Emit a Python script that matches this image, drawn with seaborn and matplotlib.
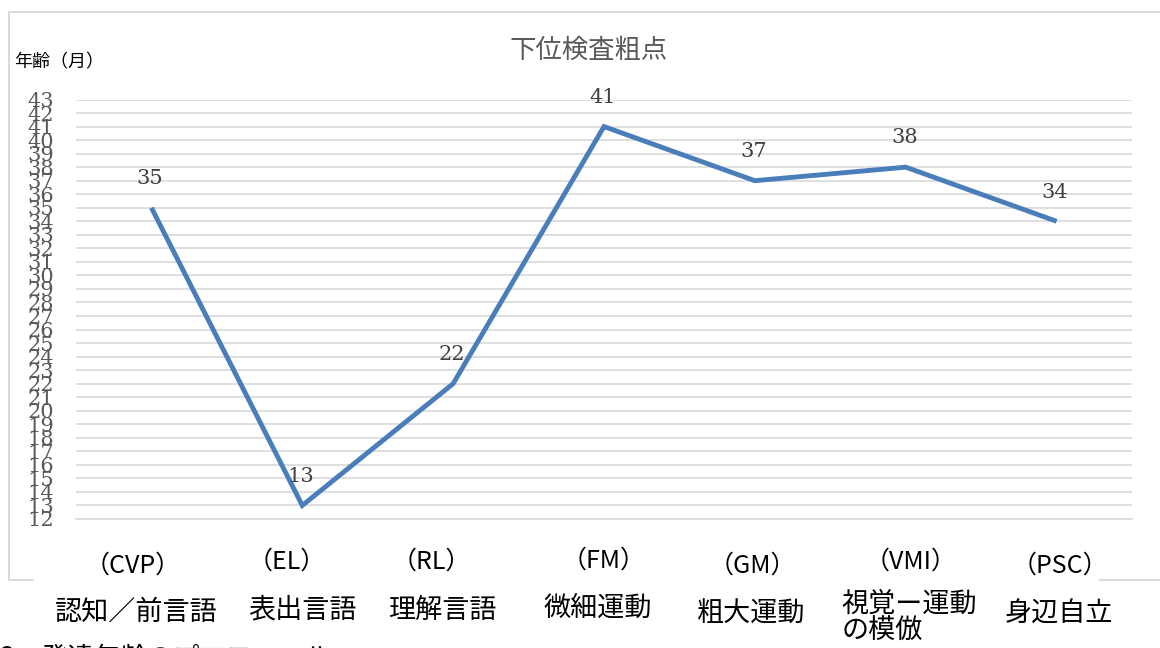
import matplotlib
matplotlib.use("Agg")
import matplotlib.pyplot as plt
from matplotlib.lines import Line2D
import seaborn as sns
import pandas as pd

# Subtest raw scores (developmental age in months)
codes = ["（CVP）", "（EL）", "（RL）", "（FM）", "（GM）", "（VMI）", "（PSC）"]
names = ["認知／前言語", "表出言語", "理解言語", "微細運動", "粗大運動", "視覚ー運動\nの模倣", "身辺自立"]
ages = [35, 13, 22, 41, 37, 38, 34]
y_ticks = list(range(12, 44))

title = "下位検査粗点"
y_label = "年齢（月）"
caption = "3　発達年齢のプロフィール"

LINE_BLUE = "#4A7EBB"
GRID = "#D9D9D9"
TEXT_GRAY = "#595959"
JP = ["Noto Sans CJK JP", "DejaVu Sans"]
SERIF = ["DejaVu Serif"]

sns.set_theme(style="white")
plt.rcParams["font.family"] = JP

W, H = 1160, 648
fig = plt.figure(figsize=(W / 100, H / 100), dpi=100)
fig.patch.set_facecolor("white")

def px_rect(x0, y0, x1, y1):
    return [x0 / W, 1 - y1 / H, (x1 - x0) / W, (y1 - y0) / H]

ax = fig.add_axes(px_rect(76, 99.5, 1132, 519))

df = pd.DataFrame({"pos": range(len(ages)), "age": ages})
sns.lineplot(data=df, x="pos", y="age", ax=ax, color=LINE_BLUE, linewidth=3.5,
             solid_capstyle="butt", solid_joinstyle="miter", zorder=3)

ax.set_xlim(-0.5, len(ages) - 0.5)
ax.set_ylim(min(y_ticks), max(y_ticks))
ax.set_xlabel("")
ax.set_ylabel("")

# horizontal gridlines at each month
ax.set_yticks(y_ticks)
ax.set_yticklabels([str(v) for v in y_ticks], fontfamily=SERIF, fontsize=15, color=TEXT_GRAY)
ax.tick_params(axis="y", length=0, pad=16)
ax.yaxis.grid(True, color=GRID, linewidth=1.2)
ax.set_axisbelow(True)

# category boundary ticks below the axis
ax.set_xticks([i - 0.5 for i in range(len(ages) + 1)])
ax.set_xticklabels([])
ax.tick_params(axis="x", length=7, width=1.2, color=GRID, direction="out")

for s in ["top", "right", "left"]:
    ax.spines[s].set_visible(False)
ax.spines["bottom"].set_color(GRID)
ax.spines["bottom"].set_linewidth(1.2)

# value labels above each point
for i, v in enumerate(ages):
    ax.annotate(str(v), (i, v), xytext=(-1, 21), textcoords="offset points",
                ha="center", va="center", fontfamily=SERIF, fontsize=15, color="#404040")

# two-row category labels under the axis
code_shift = [-19, -16, -22, 0, -2, 5, 3]
name_shift = [-15, 0, -11, -6, -4, 4, 2]
code_y = [566, 562, 562, 561, 566, 562, 566]
name_y = [612, 610, 610, 608, 614, 618, 614]
for i in range(len(codes)):
    xd = ax.transData.transform((i, 0))[0]
    fig.text((xd + code_shift[i]) / W, 1 - code_y[i] / H, codes[i], ha="center", va="center",
             fontsize=18, color="#000000")
    fig.text((xd + name_shift[i]) / W, 1 - name_y[i] / H, names[i], ha="center", va="center",
             fontsize=19.5, color="#000000", multialignment="left", linespacing=1.0)

fig.text(589 / W, 1 - 50 / H, title, ha="center", va="center", fontsize=19, color=TEXT_GRAY)
fig.text(14 / W, 1 - 62 / H, y_label, ha="left", va="center", fontsize=13, color="#000000")
fig.text(0 / W, 1 - 645 / H, caption, ha="left", va="top", fontsize=19, color="#000000")

# chart frame
frame = dict(color=GRID, linewidth=1.4, transform=fig.transFigure)
def seg(x0, y0, x1, y1):
    fig.add_artist(Line2D([x0 / W, x1 / W], [1 - y0 / H, 1 - y1 / H], **frame))
seg(9, 12, 1160, 12)
seg(9, 12, 9, 580)
seg(9, 580, 33, 580)
seg(1100, 580, 1160, 580)

fig.savefig("out.png", dpi=100, facecolor="white")
